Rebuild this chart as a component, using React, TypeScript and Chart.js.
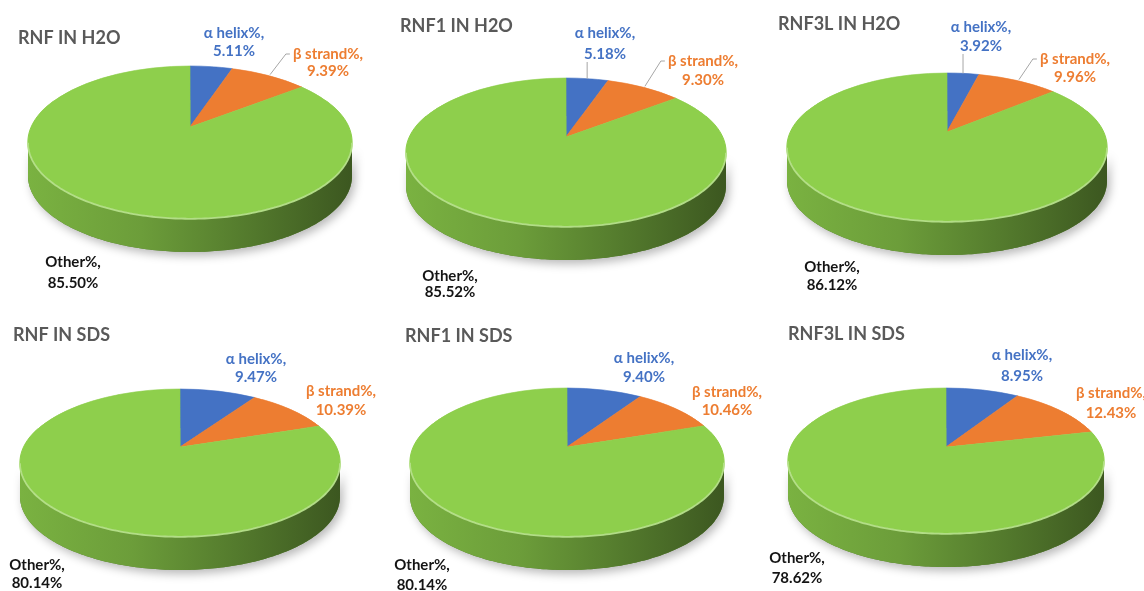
import { useEffect, useRef } from 'react';
import { Chart, PieController, ArcElement } from 'chart.js';

Chart.register(PieController, ArcElement);

// Secondary-structure composition of each sample
const categories = ['α helix%', 'β strand%', 'Other%'];
const panelTitles = ['RNF IN H2O', 'RNF1 IN H2O', 'RNF3L IN H2O', 'RNF IN SDS', 'RNF1 IN SDS', 'RNF3L IN SDS'];
const rnfH2O = [5.11, 9.39, 85.5];
const rnf1H2O = [5.18, 9.3, 85.52];
const rnf3lH2O = [3.92, 9.96, 86.12];
const rnfSDS = [9.47, 10.39, 80.14];
const rnf1SDS = [9.4, 10.46, 80.14];
const rnf3lSDS = [8.95, 12.43, 78.62];
const panelValues = [rnfH2O, rnf1H2O, rnf3lH2O, rnfSDS, rnf1SDS, rnf3lSDS];

const W = 1144;
const H = 591;
const sliceColors = ['#4472C4', '#ED7D31', '#8ECF4C'];
const labelColors = ['#4472C4', '#ED7D31', '#141414'];
const FONT = 'Lato, "Open Sans", sans-serif';

type Leader = 'left' | 'below' | null;
interface Layout {
  apexX: number; // centre of the pie face (x)
  apexY: number; // centre of the pie face (y)
  top: number; // far edge of the face
  front: number; // near edge of the face
  halfW: number; // half of the widest span
  depth: number; // wall height
  titleX: number;
  titleY: number;
  labels: [number, number, number][]; // centre x, first line y, second line y
  leaders: Leader[];
}

const layouts: Layout[] = [
  { apexX: 190, apexY: 127, top: 66, front: 218, halfW: 162, depth: 34, titleX: 18, titleY: 38,
    labels: [[234, 33, 51], [328, 54, 71], [73, 262, 283]], leaders: [null, 'left', null] },
  { apexX: 566, apexY: 137, top: 78, front: 226, halfW: 160, depth: 34, titleX: 400, titleY: 26,
    labels: [[605, 33, 54], [703, 61, 80], [450, 276, 292]], leaders: ['below', 'left', null] },
  { apexX: 947, apexY: 132, top: 73, front: 221, halfW: 160, depth: 34, titleX: 778, titleY: 24,
    labels: [[981, 27, 46], [1075, 59, 77], [832, 267, 285]], leaders: ['below', 'left', null] },
  { apexX: 180, apexY: 447, top: 389, front: 536, halfW: 160, depth: 34, titleX: 13, titleY: 335,
    labels: [[256, 359, 377], [341, 391, 410], [37, 565, 583]], leaders: [null, null, null] },
  { apexX: 567, apexY: 447, top: 388, front: 536, halfW: 157, depth: 34, titleX: 405, titleY: 336,
    labels: [[644, 358, 377], [727, 392, 410], [422, 565, 585]], leaders: [null, null, null] },
  { apexX: 946, apexY: 447, top: 388, front: 533, halfW: 158, depth: 34, titleX: 788, titleY: 334,
    labels: [[1022, 355, 376], [1111, 393, 413], [797, 558, 578]], leaders: [null, null, null] },
];

function rgbOf(hex: string): [number, number, number] {
  const n = parseInt(hex.slice(1), 16);
  return [(n >> 16) & 255, (n >> 8) & 255, n & 255];
}
function shade(hex: string, f: number) {
  const [r, g, b] = rgbOf(hex);
  return `rgb(${Math.round(r * f)},${Math.round(g * f)},${Math.round(b * f)})`;
}
function tint(hex: string, f: number, alpha = 1) {
  const [r, g, b] = rgbOf(hex);
  const m = (c: number) => Math.round(c + (255 - c) * f);
  return `rgba(${m(r)},${m(g)},${m(b)},${alpha})`;
}

// Tilted 3D pie: the face is drawn row by row with a perspective mapping,
// the front wall is extruded below it.
function makePie3d(L: Layout, title: string) {
  const a = L.apexY - L.top;
  const b = L.front - L.apexY;
  const k = (b - a) / (b + a);
  const B = a * (1 + k);
  const A = L.halfW * Math.sqrt(1 - k * k);
  const proj = (u: number, v: number): [number, number] => {
    const w = 1 - k * v;
    return [L.apexX + (A * u) / w, L.apexY + (B * v) / w];
  };
  const vOfY = (Y: number) => {
    const t = Y - L.apexY;
    return t / (B + t * k);
  };
  const t0 = Math.asin(k);
  const t1 = Math.PI - t0;

  const wallPath = (ctx: CanvasRenderingContext2D, lo: number, hi: number) => {
    const n = Math.max(8, Math.ceil((hi - lo) * 60));
    ctx.beginPath();
    for (let i = 0; i <= n; i++) {
      const t = lo + ((hi - lo) * i) / n;
      const [x, y] = proj(Math.cos(t), Math.sin(t));
      if (i === 0) ctx.moveTo(x, y);
      else ctx.lineTo(x, y);
    }
    for (let i = n; i >= 0; i--) {
      const t = lo + ((hi - lo) * i) / n;
      const [x, y] = proj(Math.cos(t), Math.sin(t));
      ctx.lineTo(x, y + L.depth);
    }
    ctx.closePath();
  };

  return {
    id: 'pie3d',
    beforeDatasetsDraw(chart: any) {
      const ctx: CanvasRenderingContext2D = chart.ctx;
      const arcs: any[] = chart.getDatasetMeta(0).data;
      if (!arcs.length) return false;
      const ax = arcs[0].x;
      const ay = arcs[0].y;
      const R = arcs[0].outerRadius;
      const xl = proj(Math.cos(t1), Math.sin(t1))[0];
      const xr = proj(Math.cos(t0), Math.sin(t0))[0];

      ctx.save();
      ctx.setTransform(1, 0, 0, 1, 0, 0);

      // soft drop shadow under the disc
      ctx.save();
      ctx.shadowColor = 'rgba(0,0,0,0.28)';
      ctx.shadowBlur = 10;
      ctx.shadowOffsetX = 3;
      ctx.shadowOffsetY = 4;
      ctx.fillStyle = shade(sliceColors[2], 0.6);
      wallPath(ctx, t0, t1);
      ctx.fill();
      ctx.restore();

      // front wall, one piece per visible slice
      arcs.forEach((arc) => {
        const lo = Math.max(arc.startAngle, t0);
        const hi = Math.min(arc.endAngle, t1);
        if (hi <= lo) return;
        const base = arc.options.backgroundColor as string;
        const g = ctx.createLinearGradient(xl, 0, xr, 0);
        g.addColorStop(0, shade(base, 0.86));
        g.addColorStop(0.35, shade(base, 0.76));
        g.addColorStop(0.7, shade(base, 0.58));
        g.addColorStop(1, shade(base, 0.42));
        ctx.fillStyle = g;
        wallPath(ctx, lo, hi);
        ctx.fill();
      });

      // face of the pie, one pixel row at a time
      for (let y = Math.floor(L.top) - 1; y < Math.ceil(L.front) + 1; y++) {
        const v0 = vOfY(y);
        const v1 = vOfY(y + 1);
        const dv = v1 - v0;
        const sx = A / (1 - k * ((v0 + v1) / 2));
        ctx.save();
        ctx.beginPath();
        ctx.rect(0, y, W, 1);
        ctx.clip();
        ctx.setTransform(sx / R, 0, 0, 1 / (R * dv), L.apexX - (sx * ax) / R, y - (ay / R + v0) / dv);
        arcs.forEach((arc) => arc.draw(ctx));
        ctx.restore();
      }

      // bevel highlight along the front rim
      arcs.forEach((arc) => {
        const lo = Math.max(arc.startAngle, t0);
        const hi = Math.min(arc.endAngle, t1);
        if (hi <= lo) return;
        const base = arc.options.backgroundColor as string;
        const n = Math.max(8, Math.ceil((hi - lo) * 60));
        ctx.beginPath();
        for (let i = 0; i <= n; i++) {
          const t = lo + ((hi - lo) * i) / n;
          const [x, y] = proj(Math.cos(t), Math.sin(t));
          if (i === 0) ctx.moveTo(x, y + 0.8);
          else ctx.lineTo(x, y + 0.8);
        }
        ctx.strokeStyle = tint(base, 0.35, 0.95);
        ctx.lineWidth = 1.8;
        ctx.stroke();
      });

      ctx.restore();
      return false;
    },
    afterDraw(chart: any) {
      const ctx: CanvasRenderingContext2D = chart.ctx;
      const arcs: any[] = chart.getDatasetMeta(0).data;
      const values: number[] = chart.data.datasets[0].data;
      ctx.save();
      ctx.setTransform(1, 0, 0, 1, 0, 0);

      ctx.font = `bold 18px ${FONT}`;
      ctx.fillStyle = '#595959';
      ctx.textAlign = 'left';
      ctx.textBaseline = 'middle';
      ctx.fillText(title, L.titleX, L.titleY);

      ctx.font = `bold 15px ${FONT}`;
      ctx.textAlign = 'center';
      arcs.forEach((arc, i) => {
        const [lx, y1, y2] = L.labels[i];
        const line1 = `${categories[i]},`;
        const line2 = `${values[i].toFixed(2)}%`;
        ctx.fillStyle = labelColors[i];
        ctx.fillText(line1, lx, y1);
        ctx.fillText(line2, lx, y2);

        const kind = L.leaders[i];
        if (!kind) return;
        const m = (arc.startAngle + arc.endAngle) / 2;
        const [px, py] = proj(Math.cos(m), Math.sin(m));
        ctx.beginPath();
        if (kind === 'left') {
          const sx = lx - ctx.measureText(line1).width / 2 - 3;
          ctx.moveTo(sx, y1);
          ctx.lineTo(sx - 4, y1);
          ctx.lineTo(px + 1, py - 1);
        } else {
          ctx.moveTo(px, y2 + 8);
          ctx.lineTo(px, py);
        }
        ctx.strokeStyle = '#A6A6A6';
        ctx.lineWidth = 1;
        ctx.stroke();
      });
      ctx.restore();
    },
  };
}

function PiePanel({ index }: { index: number }) {
  const ref = useRef<HTMLCanvasElement>(null);
  useEffect(() => {
    const canvas = ref.current;
    if (!canvas) return;
    const chart = new Chart(canvas, {
      type: 'pie',
      data: {
        labels: categories,
        datasets: [
          {
            data: panelValues[index],
            backgroundColor: sliceColors,
            borderColor: sliceColors,
            borderWidth: 2,
          },
        ],
      },
      options: {
        responsive: false,
        animation: false,
        devicePixelRatio: 1,
        events: [],
        plugins: { legend: { display: false }, tooltip: { enabled: false } },
      },
      plugins: [makePie3d(layouts[index], panelTitles[index]) as any],
    });
    return () => chart.destroy();
  }, [index]);
  return (
    <canvas
      ref={ref}
      width={W}
      height={H}
      style={{ position: 'absolute', left: 0, top: 0, width: W, height: H }}
    />
  );
}

export default function App() {
  return (
    <div style={{ position: 'absolute', left: 0, top: 0, width: W, height: H, background: '#ffffff', overflow: 'hidden' }}>
      {panelTitles.map((_, i) => (
        <PiePanel key={i} index={i} />
      ))}
    </div>
  );
}
